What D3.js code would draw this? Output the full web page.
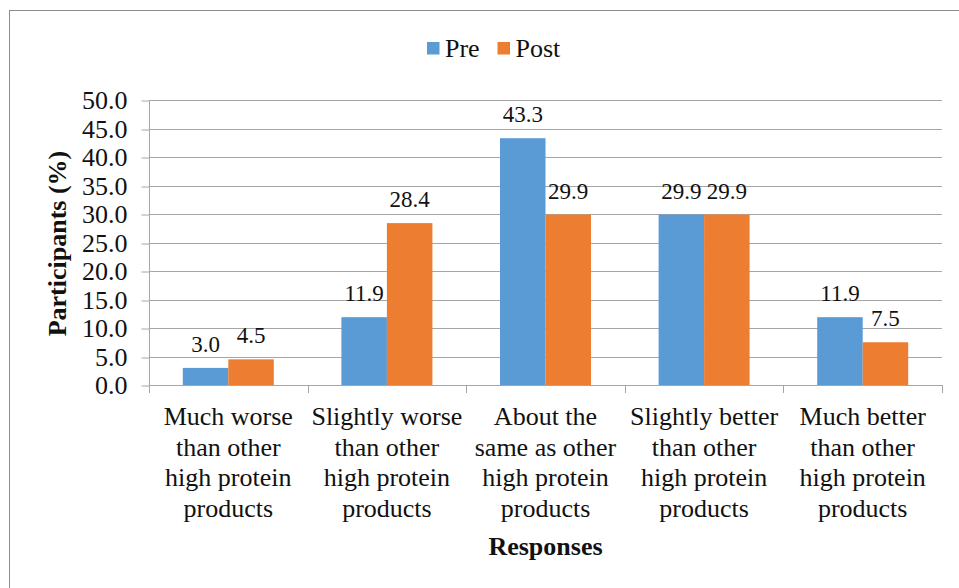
<!DOCTYPE html>
<html>
<head>
<meta charset="utf-8">
<script src="https://cdn.jsdelivr.net/npm/d3@7/dist/d3.min.js"></script>
<style>
  html, body { margin: 0; padding: 0; background: #fff; }
  svg { display: block; font-family: "Liberation Serif", "Times New Roman", serif; }
  svg text, svg tspan { font-family: "Liberation Serif", "Times New Roman", serif !important; fill: #111; }
</style>
</head>
<body>
<svg id="chart" width="959" height="588"></svg>
<script>
// Response categories (each label broken into its display lines)
const categories = [
  "Much worse than other high protein products",
  "Slightly worse than other high protein products",
  "About the same as other high protein products",
  "Slightly better than other high protein products",
  "Much better than other high protein products"
];
const categoryLines = [
  ["Much worse", "than other", "high protein", "products"],
  ["Slightly worse", "than other", "high protein", "products"],
  ["About the", "same as other", "high protein", "products"],
  ["Slightly better", "than other", "high protein", "products"],
  ["Much better", "than other", "high protein", "products"]
];
const seriesNames = ["Pre", "Post"];
const preValues  = [3.0, 11.9, 43.3, 29.9, 11.9];
const postValues = [4.5, 28.4, 29.9, 29.9, 7.5];
const yTicks = [0, 5, 10, 15, 20, 25, 30, 35, 40, 45, 50];

const colors = { Pre: "#5B9BD5", Post: "#ED7D31" };
const gridColor = "#a6a6a6";
const serif = '"Liberation Serif", "Times New Roman", serif';

const svg = d3.select("#chart");

// outer chart frame
svg.append("rect")
  .attr("x", 9.5).attr("y", 10.5)
  .attr("width", 1000).attr("height", 1000)
  .attr("fill", "none").attr("stroke", "#8c8c8c").attr("stroke-width", 1);

const plot = { left: 149, right: 942, top: 100, bottom: 385 };

const x = d3.scaleBand().domain(categories).range([plot.left, plot.right]).padding(0);
const xs = d3.scaleBand().domain(seriesNames).range([0, x.bandwidth()])
  .paddingInner(0).paddingOuter(0.743);
const y = d3.scaleLinear().domain([0, 50]).range([plot.bottom, plot.top]);

// horizontal gridlines
svg.append("g").selectAll("line").data(yTicks.filter(d => d > 0)).join("line")
  .attr("x1", plot.left).attr("x2", plot.right)
  .attr("y1", d => Math.round(y(d)) + 0.5).attr("y2", d => Math.round(y(d)) + 0.5)
  .attr("stroke", gridColor).attr("stroke-width", 1);

// y axis
const yAxis = svg.append("g")
  .attr("transform", `translate(${plot.left + 0.5},0)`)
  .call(d3.axisLeft(y).tickValues(yTicks).tickFormat(d3.format(".1f")).tickSize(8).tickPadding(14));
yAxis.attr("font-family", serif);
yAxis.select(".domain").attr("stroke", gridColor).attr("d", `M0,${plot.top}V${plot.bottom}`);
yAxis.selectAll(".tick line").attr("stroke", gridColor)
  .attr("transform", function(d) { return `translate(0,${Math.round(y(d)) + 0.5 - y(d)})`; });
yAxis.selectAll(".tick text")
  .attr("font-size", 26).attr("fill", "#111")
  .style("font-family", serif)
  .attr("dy", "0.34em");

// bars
const series = [
  { name: "Pre", values: preValues },
  { name: "Post", values: postValues }
];
const barData = [];
series.forEach(s => s.values.forEach((v, i) => barData.push({ cat: categories[i], name: s.name, value: v })));

svg.append("g").selectAll("rect").data(barData).join("rect")
  .attr("x", d => x(d.cat) + xs(d.name))
  .attr("y", d => y(d.value))
  .attr("width", xs.bandwidth())
  .attr("height", d => y(0) - y(d.value))
  .attr("fill", d => colors[d.name]);

// value labels
svg.append("g").selectAll("text").data(barData).join("text")
  .attr("x", d => x(d.cat) + xs(d.name) + xs.bandwidth() / 2)
  .attr("y", d => y(d.value) - 16)
  .attr("text-anchor", "middle")
  .attr("font-size", 23)
  .style("font-family", serif)
  .text(d => d.value.toFixed(1));

// x axis baseline and category separators
const xAxis = svg.append("g");
xAxis.append("line")
  .attr("x1", plot.left).attr("x2", plot.right)
  .attr("y1", plot.bottom + 0.5).attr("y2", plot.bottom + 0.5)
  .attr("stroke", gridColor);
const bounds = categories.map(c => x(c)).concat([plot.right]);
xAxis.selectAll("line.sep").data(bounds).join("line")
  .attr("class", "sep")
  .attr("x1", d => Math.round(d) + 0.5).attr("x2", d => Math.round(d) + 0.5)
  .attr("y1", plot.bottom).attr("y2", plot.bottom + 8)
  .attr("stroke", gridColor);

// category labels
const catLabel = svg.append("g").selectAll("text").data(categories).join("text")
  .attr("text-anchor", "middle")
  .attr("font-size", 26)
  .style("font-family", serif);
catLabel.each(function(c, i) {
  const t = d3.select(this);
  categoryLines[i].forEach((line, j) => {
    t.append("tspan")
      .attr("x", x(c) + x.bandwidth() / 2)
      .attr("y", 425 + j * 30.6)
      .style("font-family", serif)
      .text(line);
  });
});

// axis titles
svg.append("text")
  .attr("transform", "translate(66,243.5) rotate(-90)")
  .attr("text-anchor", "middle")
  .attr("font-size", 26).attr("font-weight", "bold")
  .style("font-family", serif)
  .text("Participants (%)");

svg.append("text")
  .attr("x", (plot.left + plot.right) / 2).attr("y", 555)
  .attr("text-anchor", "middle")
  .attr("font-size", 26).attr("font-weight", "bold")
  .style("font-family", serif)
  .text("Responses");

// legend
const legendPos = [{ name: "Pre", x: 427 }, { name: "Post", x: 497.5 }];
const legend = svg.append("g").selectAll("g").data(legendPos).join("g")
  .attr("transform", d => `translate(${d.x},42)`);
legend.append("rect")
  .attr("width", 12.5).attr("height", 12.5)
  .attr("fill", d => colors[d.name]);
legend.append("text")
  .attr("x", 18).attr("y", 14.7)
  .attr("font-size", 26)
  .style("font-family", serif)
  .text(d => d.name);
</script>
</body>
</html>
